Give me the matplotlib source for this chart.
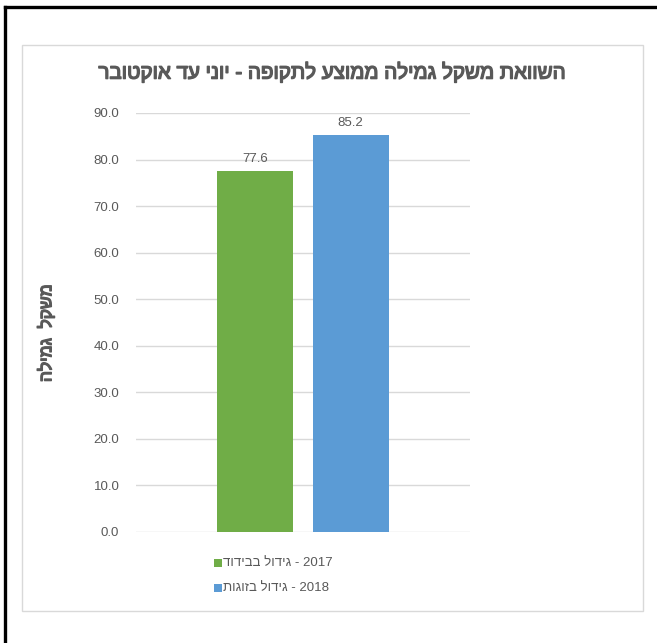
import matplotlib
matplotlib.use("Agg")
import matplotlib.pyplot as plt
import matplotlib.patheffects as pe
from matplotlib.patches import Rectangle
from matplotlib.lines import Line2D

# ---------------- data ----------------
title_he = "השוואת משקל גמילה ממוצע לתקופה - יוני עד אוקטובר"
ylabel_he = "משקל  גמילה"
series_he = ["גידול בבידוד", "גידול בזוגות"]
series_year = ["2017", "2018"]
values = [77.6, 85.2]
colors = ["#70AD47", "#5B9BD5"]
yticks = [0, 10, 20, 30, 40, 50, 60, 70, 80, 90]

# matplotlib draws left-to-right, so Hebrew is given in visual order
def vis(s):
    return s[::-1]

FONT = ["Liberation Sans", "DejaVu Sans"]
TXT = "#595959"
plt.rcParams["font.family"] = FONT
# faux bold: thin stroke around the regular glyphs
fake_bold = [pe.withStroke(linewidth=1.0, foreground=TXT)]

W, H = 657, 643
fig = plt.figure(figsize=(W / 100, H / 100), dpi=100)

# outer black frame (top and left only visible)
fig.add_artist(Line2D([4.5 / W, 1], [1 - 6.5 / H, 1 - 6.5 / H], color="black", lw=2.4))
fig.add_artist(Line2D([4.5 / W, 4.5 / W], [0, 1 - 6.5 / H], color="black", lw=2.4))
# chart area border
fig.add_artist(Rectangle((22 / W, 1 - 611 / H), (643 - 22) / W, (611 - 45) / H,
                         fill=False, edgecolor="#D9D9D9", lw=1.0))

ax = fig.add_axes([136 / W, 1 - 532 / H, (470 - 136) / W, (532 - 113) / H])
ax.set_ylim(0, 90)
ax.set_xlim(-1.75, 1.75)
ax.set_yticks(yticks)
ax.set_yticklabels(["%.1f" % v for v in yticks], color=TXT, fontsize=9.5)
ax.tick_params(axis="y", length=0, pad=12)
ax.set_xticks([])
for s in ax.spines.values():
    s.set_visible(False)
ax.grid(axis="y", color="#D9D9D9", lw=1)
ax.set_axisbelow(True)

pos = [-0.5, 0.5]
bars = ax.bar(pos, values, width=0.8, color=colors, zorder=2)
for x, v in zip(pos, values):
    ax.text(x, v + 1.3, "%.1f" % v, ha="center", va="bottom", color=TXT, fontsize=9.5)

fig.text(332 / W, 1 - 72 / H, vis(title_he), ha="center", va="center",
         fontsize=14.8, color=TXT, path_effects=fake_bold)
fig.text(46 / W, 1 - 333 / H, vis(ylabel_he), ha="center", va="center",
         rotation=90, fontsize=12.5, color=TXT, path_effects=fake_bold)

# legend (square on the left, Hebrew then year)
for i in range(2):
    yy = 1 - (563 + 25 * i) / H
    fig.add_artist(Rectangle((214 / W, yy - 4 / H), 8 / W, 8 / H,
                             facecolor=colors[i], edgecolor="none"))
    fig.text(223 / W, yy, vis(series_he[i]) + " - " + series_year[i],
             ha="left", va="center", fontsize=9.5, color=TXT)

fig.savefig("out.png", dpi=100, facecolor="white")
